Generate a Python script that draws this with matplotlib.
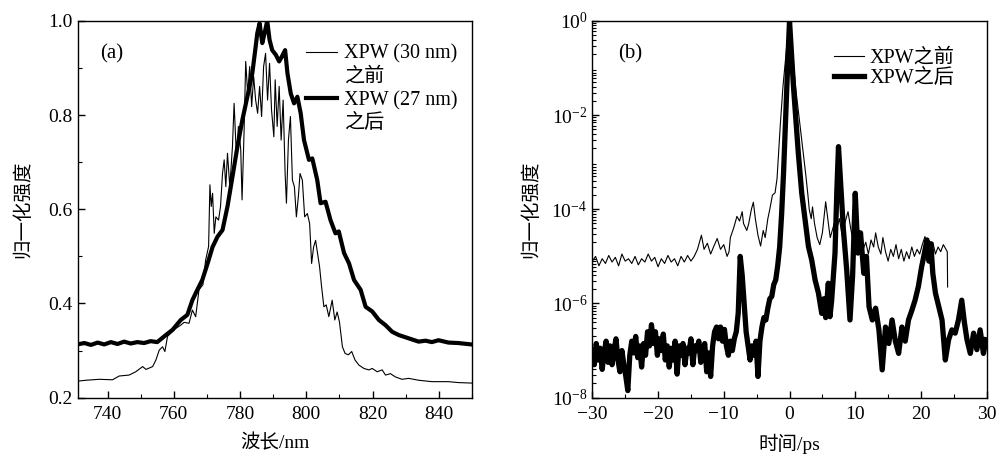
import numpy as np
import matplotlib
matplotlib.use("Agg")
import matplotlib.pyplot as plt
from matplotlib.lines import Line2D
from matplotlib.ticker import MultipleLocator, FormatStrFormatter, LogLocator, NullFormatter

plt.rcParams['font.family'] = ['Liberation Serif', 'Noto Sans CJK SC']
plt.rcParams['axes.unicode_minus'] = True

# (a) spectra, wavelength in nm
wl_before = [730.8, 733.5, 737.5, 741.5, 743.5, 746.5, 748.5, 750.6, 751.6, 753.6,
             754.6, 755.6, 756.6, 757.3, 758.1, 759.1, 760.6, 762.1, 763.1, 764.6,
             765.6, 766.6, 767.6, 768.8, 769.6, 770.5, 770.9, 771.3, 771.7, 772.2,
             772.7, 773.5, 774.1, 774.7, 775.2, 775.7, 776.2, 776.9, 777.7, 778.2,
             778.9, 779.5, 780.2, 780.6, 781.2, 781.7, 782.3, 782.9, 783.5, 784.1,
             784.7, 785.3, 785.9, 786.5, 787.1, 787.7, 788.3, 788.9, 789.5, 790.2,
             790.6, 791.2, 791.8, 792.4, 793.0, 793.6, 794.0, 794.6, 795.2, 795.8,
             796.4, 797.0, 797.6, 798.1, 798.8, 799.5, 800.3, 801.0, 801.6, 802.2,
             802.8, 803.4, 804.0, 804.6, 805.3, 806.0, 806.8, 807.8, 808.6, 809.3,
             810.0, 810.9, 811.7, 812.7, 813.7, 814.7, 815.9, 817.4, 818.9, 819.9,
             821.4, 822.9, 823.9, 825.4, 826.9, 828.9, 830.9, 833.9, 837.9, 842.9,
             846.0, 849.9]
int_before = [0.235, 0.237, 0.239, 0.238, 0.246, 0.248, 0.255, 0.266, 0.260, 0.266,
              0.280, 0.301, 0.308, 0.298, 0.330, 0.337, 0.347, 0.354, 0.360, 0.358,
              0.386, 0.372, 0.429, 0.440, 0.492, 0.521, 0.652, 0.606, 0.634, 0.549,
              0.584, 0.577, 0.606, 0.676, 0.705, 0.648, 0.719, 0.648, 0.733, 0.825,
              0.712, 0.776, 0.727, 0.620, 0.762, 0.914, 0.846, 0.903, 0.818, 0.882,
              0.832, 0.804, 0.861, 0.797, 0.903, 0.931, 0.832, 0.910, 0.811, 0.754,
              0.875, 0.776, 0.861, 0.747, 0.832, 0.676, 0.613, 0.747, 0.797, 0.662,
              0.648, 0.584, 0.627, 0.676, 0.662, 0.584, 0.591, 0.570, 0.485, 0.520,
              0.534, 0.506, 0.478, 0.436, 0.393, 0.397, 0.372, 0.407, 0.365, 0.382,
              0.361, 0.308, 0.294, 0.291, 0.298, 0.280, 0.269, 0.262, 0.259, 0.262,
              0.255, 0.259, 0.248, 0.251, 0.244, 0.239, 0.241, 0.237, 0.234, 0.234,
              0.232, 0.231]

wl_after = [730.8, 733.0, 735.0, 737.0, 739.0, 741.0, 743.0, 745.0, 747.0, 749.0,
            751.0, 753.0, 755.0, 757.6, 759.6, 762.1, 764.1, 765.6, 767.1, 768.6,
            770.2, 771.7, 773.2, 774.7, 776.2, 777.7, 779.2, 780.7, 782.2, 783.7,
            784.7, 785.2, 785.9, 786.7, 787.4, 788.2, 788.9, 789.7, 790.8, 791.8,
            792.6, 793.6, 794.3, 795.3, 796.3, 797.3, 798.3, 799.3, 800.8, 801.8,
            803.3, 804.3, 805.8, 807.3, 808.8, 809.8, 811.4, 812.9, 814.4, 816.4,
            817.9, 819.9, 821.9, 823.9, 825.9, 827.9, 830.9, 833.9, 836.0, 837.9,
            839.9, 842.9, 845.9, 849.9]
int_after = [0.313, 0.316, 0.312, 0.317, 0.313, 0.318, 0.314, 0.319, 0.315, 0.318,
             0.316, 0.320, 0.318, 0.333, 0.344, 0.365, 0.376, 0.407, 0.429, 0.450,
             0.485, 0.520, 0.542, 0.556, 0.606, 0.669, 0.733, 0.790, 0.839, 0.889,
             0.945, 0.974, 0.995, 0.953, 0.974, 1.000, 0.960, 0.938, 0.928, 0.914,
             0.924, 0.938, 0.889, 0.846, 0.825, 0.839, 0.804, 0.747, 0.705, 0.708,
             0.662, 0.613, 0.616, 0.577, 0.549, 0.553, 0.507, 0.485, 0.450, 0.429,
             0.393, 0.383, 0.365, 0.354, 0.340, 0.333, 0.326, 0.319, 0.321, 0.318,
             0.322, 0.317, 0.316, 0.313]

# (b) temporal contrast, time in ps, values given as log10 of normalized intensity
t_before = [-30, -29.5, -29, -28.5, -28, -27.5, -27, -26.5, -26, -25.5, -25, -24.5,
            -24, -23.5, -23, -22.5, -22, -21.5, -21, -20.5, -20, -19.5, -19, -18.5,
            -18, -17.5, -17, -16.5, -16, -15.5, -15, -14.5, -14, -13.4, -13, -12.5,
            -12, -11.5, -11, -10.5, -10, -9.5, -9.2, -9, -8.5, -8, -7.6, -7.2, -7,
            -6.5, -6.2, -5.8, -5.5, -5.2, -4.8, -4.4, -4.0, -3.7, -3.3, -3.0, -2.6,
            -2.2, -1.9, -1.7, -1.4, -1.0, -0.6, -0.3, 0,
            0.3, 0.6, 1.0, 1.5, 2.0, 2.5, 2.8, 3.0, 3.3, 3.5, 3.8, 4.2, 4.6, 5.0,
            5.5, 6.0, 6.2, 6.8, 7.2, 7.6, 8.0, 8.4, 8.9, 9.3, 9.7, 10.0, 10.4, 10.8,
            11.2, 11.6, 12.0, 12.4, 12.8, 13.1, 13.5, 13.9, 14.2, 14.6, 15.0, 15.4,
            15.8, 16.2, 16.6, 17.0, 17.4, 17.8, 18.2, 18.6, 19.0, 19.4, 19.8, 20.2,
            20.6, 21.0, 21.4, 21.8, 22.2, 22.6, 23.0, 23.4, 23.8, 24.0, 24.05]
log_before = [-5.10, -5.00, -5.20, -5.05, -5.15, -4.98, -5.12, -5.02, -5.20, -4.95,
              -5.10, -5.05, -5.15, -5.00, -5.18, -5.05, -5.12, -4.95, -5.10, -5.02,
              -5.22, -5.05, -5.15, -4.98, -5.12, -5.05, -5.20, -5.00, -5.12, -4.98,
              -5.10, -5.00, -4.85, -4.55, -4.85, -4.72, -4.95, -4.78, -4.62, -4.85,
              -4.75, -5.00, -4.90, -4.60, -4.40, -4.15, -4.25, -4.05, -4.30, -4.45,
              -4.30, -4.00, -3.85, -4.20, -4.55, -4.78, -4.45, -4.60, -4.20, -4.00,
              -3.70, -3.65, -3.35, -2.90, -2.20, -1.40, -0.80, -0.35, 0.0,
              -0.40, -0.90, -1.50, -2.10, -2.70, -3.30, -3.70, -4.00, -4.20, -3.95,
              -4.30, -4.60, -4.75, -4.50, -3.84, -4.40, -4.60, -4.30, -4.40, -4.20,
              -4.55, -4.30, -4.05, -4.40, -4.70, -4.60, -4.75, -4.65, -4.85, -4.70,
              -4.95, -4.65, -4.80, -4.50, -4.80, -4.95, -4.60, -4.90, -5.10, -4.85,
              -5.00, -4.75, -5.05, -4.85, -5.10, -4.90, -5.05, -4.80, -5.00, -4.85,
              -4.95, -4.75, -4.58, -4.75, -4.85, -4.70, -4.95, -4.80, -4.90, -4.75,
              -4.85, -4.90, -5.65]

t_after = [-30, -29.7, -29.4, -29.1, -28.8, -28.5, -28.2, -27.9, -27.6, -27.3, -27.0,
           -26.7, -26.4, -26.1, -25.8, -25.5, -25.2, -24.9, -24.6, -24.3, -24.0,
           -23.7, -23.4, -23.1, -22.8, -22.5, -22.2, -21.9, -21.6, -21.3, -21.0,
           -20.7, -20.4, -20.1, -19.8, -19.5, -19.2, -18.9, -18.6, -18.3, -18.0,
           -17.7, -17.4, -17.1, -16.8, -16.5, -16.2, -15.9, -15.6, -15.3, -15.0,
           -14.7, -14.4, -14.1, -13.8, -13.5, -13.2, -12.9, -12.6, -12.3, -12.0,
           -11.7, -11.4, -11.1, -10.8, -10.5, -10.2, -9.9, -9.6, -9.3, -9.0, -8.7,
           -8.4, -8.1, -7.8, -7.5, -7.2, -6.9, -6.6, -6.3, -6.0, -5.7, -5.4, -5.1,
           -4.8, -4.5, -4.2, -3.9, -3.6, -3.3, -3.0, -2.7, -2.4, -2.1, -1.8, -1.5,
           -1.2, -0.9, -0.6, -0.3, 0,
           0.6, 1.34, 1.86, 2.37, 2.88, 3.38, 3.89, 4.4, 4.9, 5.2, 5.5, 5.9, 6.15,
           6.4, 6.92, 7.2, 7.45, 7.8, 8.2, 8.7, 9.2, 9.6, 10.0, 10.4, 10.8, 11.3,
           11.7, 12.1, 12.6, 13.1, 13.6, 14.1, 14.6, 15.1, 15.6, 16.1, 16.6, 17.1,
           17.6, 18.1, 18.6, 19.1, 19.6, 20.1, 20.5, 20.9, 21.2, 21.5, 21.8, 22.2,
           22.7, 23.2, 23.7, 24.2, 24.7, 25.2, 25.7, 26.2, 26.6, 27.0, 27.5, 28.0,
           28.5, 29.0, 29.5, 29.9]
log_after = [-7.00, -7.30, -6.85, -7.20, -6.95, -7.40, -7.05, -6.80, -7.25, -6.90, -7.30,
             -7.00, -6.75, -7.20, -7.45, -7.00, -7.30, -7.55, -7.85, -7.10, -6.80,
             -7.05, -6.70, -7.15, -6.90, -7.35, -6.85, -7.10, -6.60, -6.90, -6.45,
             -6.85, -6.60, -7.10, -6.75, -7.00, -6.65, -7.20, -6.90, -7.35, -6.95,
             -7.20, -6.80, -7.50, -6.90, -7.10, -6.85, -7.30, -6.95, -7.05, -6.75,
             -7.30, -6.90, -7.00, -6.80, -7.25, -7.00, -6.85, -7.45, -7.05, -7.55,
             -6.90, -6.60, -6.50, -6.75, -6.50, -6.80, -6.55, -6.90, -7.10, -6.80, -7.00,
             -6.75, -6.60, -6.20, -5.00, -5.40, -6.00, -6.60, -6.90, -7.20, -6.90, -7.10, -6.80,
             -7.55, -6.80, -6.50, -6.30, -6.35, -6.10, -5.90, -5.85, -5.60, -5.50, -5.20, -4.80,
             -4.10, -3.20, -2.10, -1.00, 0.0,
             -1.39, -2.81, -3.66, -4.23, -4.79, -5.08, -5.50, -5.78, -6.21, -5.90, -6.30, -5.57, -6.28,
             -5.95, -4.93, -3.60, -2.67, -3.50, -4.44, -5.29, -6.35, -5.40, -3.66, -4.93, -4.50, -5.36,
             -5.00, -6.07, -6.35, -6.10, -6.56, -7.41, -6.50, -6.85, -6.35, -6.80, -7.06, -6.50,
             -6.80, -6.35, -6.15, -5.93, -5.64, -5.22, -4.95, -4.65, -5.10, -4.73, -5.36, -5.78,
             -6.07, -6.35, -7.20, -6.77, -6.56, -6.63, -6.35, -5.93, -6.40, -6.77, -7.06, -6.63,
             -6.98, -6.56, -7.06, -6.77]

fig = plt.figure(figsize=(9.98, 4.55), dpi=100)
ax1 = fig.add_axes([0.0779, 0.126, 0.395, 0.828])
ax2 = fig.add_axes([0.5935, 0.126, 0.3952, 0.828])

ax1.plot(wl_before, int_before, color='black', lw=0.8)
ax1.plot(wl_after, int_after, color='black', lw=3.0)
ax1.set_xlim(731, 850)
ax1.set_ylim(0.2, 1.0)
ax1.xaxis.set_major_locator(MultipleLocator(20))
ax1.xaxis.set_minor_locator(MultipleLocator(10))
ax1.yaxis.set_major_locator(MultipleLocator(0.2))
ax1.yaxis.set_minor_locator(MultipleLocator(0.1))
ax1.yaxis.set_major_formatter(FormatStrFormatter('%.1f'))
ax1.set_xlabel('波长/nm', fontsize=14, labelpad=8)
ax1.set_ylabel('归一化强度', fontsize=14, labelpad=12)
ax1.text(0.087, 0.912, '(a)', transform=ax1.transAxes, fontsize=15, ha='center', va='center')
h1 = [Line2D([], [], color='black', lw=0.8), Line2D([], [], color='none'),
      Line2D([], [], color='black', lw=3.0), Line2D([], [], color='none')]
ax1.legend(h1, ['XPW (30 nm)', '之前', 'XPW (27 nm)', '之后'], loc='upper right',
           bbox_to_anchor=(0.998, 0.975), frameon=False, fontsize=14.5, handlelength=1.5,
           handletextpad=0.35, labelspacing=0.2, borderaxespad=0.3)

ax2.semilogy(t_before, 10.0 ** np.array(log_before), color='black', lw=0.8)
ax2.semilogy(t_after, 10.0 ** np.array(log_after), color='black', lw=3.8)
ax2.set_xlim(-30, 30)
ax2.set_ylim(1e-8, 1)
ax2.xaxis.set_major_locator(MultipleLocator(10))
ax2.xaxis.set_minor_locator(MultipleLocator(5))
ax2.yaxis.set_major_locator(LogLocator(base=10, numticks=20))
ax2.yaxis.set_minor_locator(LogLocator(base=10, subs=np.arange(2, 10), numticks=20))
ax2.yaxis.set_minor_formatter(NullFormatter())
ax2.set_yticks([1e-8, 1e-6, 1e-4, 1e-2, 1], minor=False)
ax2.set_xlabel('时间/ps', fontsize=14, labelpad=8)
ax2.set_ylabel('归一化强度', fontsize=14, labelpad=8)
ax2.text(0.096, 0.912, '(b)', transform=ax2.transAxes, fontsize=15, ha='center', va='center')
h2 = [Line2D([], [], color='black', lw=0.8), Line2D([], [], color='black', lw=3.8)]
ax2.legend(h2, ['XPW之前', 'XPW之后'], loc='upper right', bbox_to_anchor=(0.955, 0.963),
           frameon=False, fontsize=14.5, handlelength=1.5, handletextpad=0.3,
           labelspacing=0.05, borderaxespad=0.3)

for ax in (ax1, ax2):
    ax.tick_params(which='both', direction='in', top=False, right=False, labelsize=14)
    ax.tick_params(which='major', length=5, width=1)
    ax.tick_params(which='minor', length=3, width=0.8)
    ax.tick_params(axis='x', pad=6)
    for s in ax.spines.values():
        s.set_linewidth(1.0)

fig.savefig('out.png', dpi=100)
